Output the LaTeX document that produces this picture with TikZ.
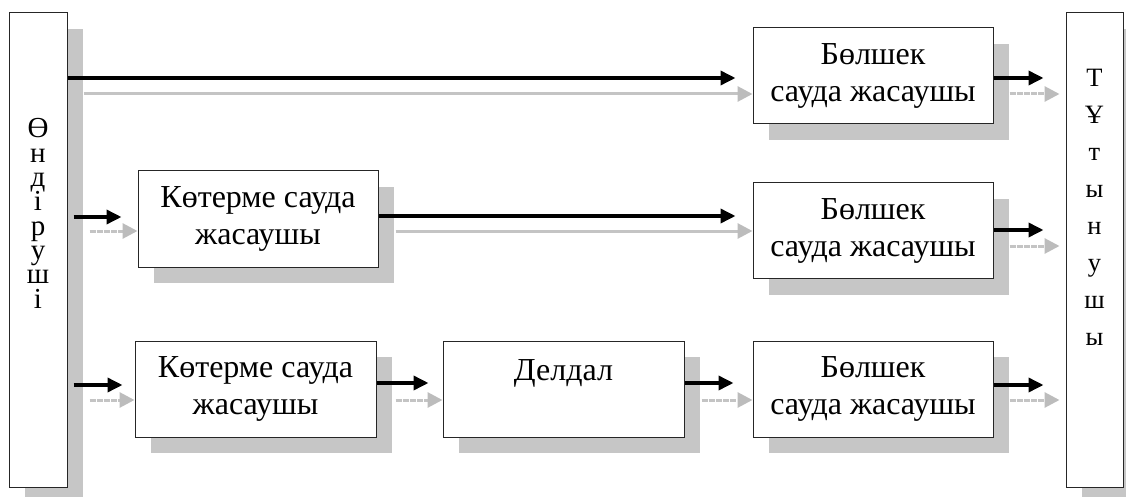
\documentclass[tikz,border=0pt]{standalone}
\usepackage{fontspec}
\setmainfont{Liberation Serif}
\usetikzlibrary{arrows.meta,shadows}
\definecolor{shadowgray}{RGB}{198,198,198}
\definecolor{arrowgray}{RGB}{196,196,196}
\definecolor{headgray}{RGB}{188,188,188}
\begin{document}
\begin{tikzpicture}[x=1pt,y=-1pt,
  box/.style={draw=black!85, line width=1pt, fill=white, inner sep=0pt, align=center,
    font=\fontsize{32}{37}\selectfont,
    drop shadow={shadow xshift=16pt, shadow yshift=-16pt, fill=shadowgray, opacity=1, draw=none}},
  bigbox/.style={box, minimum width=57pt, minimum height=474pt},
  shopbox/.style={box, minimum width=240pt, minimum height=96pt},
  lletter/.style={anchor=base, inner sep=0pt, text height=17pt, text depth=4pt, font=\fontsize{29}{29}\selectfont},
  rletter/.style={anchor=base, inner sep=0pt, font=\fontsize{26.5}{26.5}\selectfont},
  barrow/.style={line width=3.5pt, black, -{Triangle[length=15pt,width=14pt]}},
  garrow/.style={line width=3pt, arrowgray, -{Triangle[length=15pt,width=15pt,fill=headgray,color=headgray]}},
  garrowp/.style={garrow, dash pattern=on 6pt off 1.2pt}
]
\useasboundingbox (0,0) rectangle (1126,497);

% boxes
\node[bigbox, minimum width=58pt] (prod) at (38,250) {};
\node[bigbox] (cons) at (1094.5,250) {};
\node[shopbox] (r1) at (873,76) {Бөлшек\\сауда жасаушы};
\node[shopbox] (r2) at (873,230.5) {Бөлшек\\сауда жасаушы};
\node[shopbox] (r3) at (873,389) {Бөлшек\\сауда жасаушы};
\node[shopbox] (w2) at (258,219) {Көтерме сауда\\жасаушы};
\node[shopbox, minimum width=241pt] (w3) at (255.5,389) {Көтерме сауда\\жасаушы};
\node[shopbox, minimum width=241pt] (d3) at (563.5,389) {Делдал\\\phantom{ж}};

% vertical labels
\foreach \ch [count=\i] in {Ө,н,д,і,р,у,ш,і}
  \node[lletter] (p\i) at (38,{138+24.3*(\i-1)}) {\ch};
\foreach \ch [count=\i] in {Т,Ұ,т,ы,н,у,ш,ы}
  \node[rletter] (c\i) at (1094.5,{87+36.9*(\i-1)}) {\ch};

% row 1
\draw[barrow, shorten >=17pt] (prod.east |- 0,78) -- (r1.west |- 0,78);
\draw[garrow, shorten <=16pt] (prod.east |- 0,94) -- (r1.west |- 0,94);
\draw[barrow, shorten >=22pt] (r1.east |- 0,78) -- (cons.west |- 0,78);
\draw[garrowp, shorten <=16pt, shorten >=6pt] (r1.east |- 0,94) -- (cons.west |- 0,94);

% row 2
\draw[barrow, shorten <=6pt, shorten >=16pt] (prod.east |- 0,217) -- (w2.west |- 0,217);
\draw[garrowp, shorten <=22pt] (prod.east |- 0,231) -- (w2.west |- 0,231);
\draw[barrow, shorten >=17pt] (w2.east |- 0,216) -- (r2.west |- 0,216);
\draw[garrow, shorten <=17pt] (w2.east |- 0,231) -- (r2.west |- 0,231);
\draw[barrow, shorten >=22pt] (r2.east |- 0,230) -- (cons.west |- 0,230);
\draw[garrowp, shorten <=16pt, shorten >=6pt] (r2.east |- 0,246) -- (cons.west |- 0,246);

% row 3
\draw[barrow, shorten <=6pt, shorten >=12pt] (prod.east |- 0,385) -- (w3.west |- 0,385);
\draw[garrowp, shorten <=22pt] (prod.east |- 0,400) -- (w3.west |- 0,400);
\draw[barrow, shorten >=14pt] (w3.east |- 0,383) -- (d3.west |- 0,383);
\draw[garrowp, shorten <=19pt] (w3.east |- 0,400) -- (d3.west |- 0,400);
\draw[barrow, shorten >=19pt] (d3.east |- 0,383) -- (r3.west |- 0,383);
\draw[garrowp, shorten <=17pt] (d3.east |- 0,400) -- (r3.west |- 0,400);
\draw[barrow, shorten >=22pt] (r3.east |- 0,385) -- (cons.west |- 0,385);
\draw[garrowp, shorten <=16pt, shorten >=6pt] (r3.east |- 0,400) -- (cons.west |- 0,400);
\end{tikzpicture}
\end{document}
